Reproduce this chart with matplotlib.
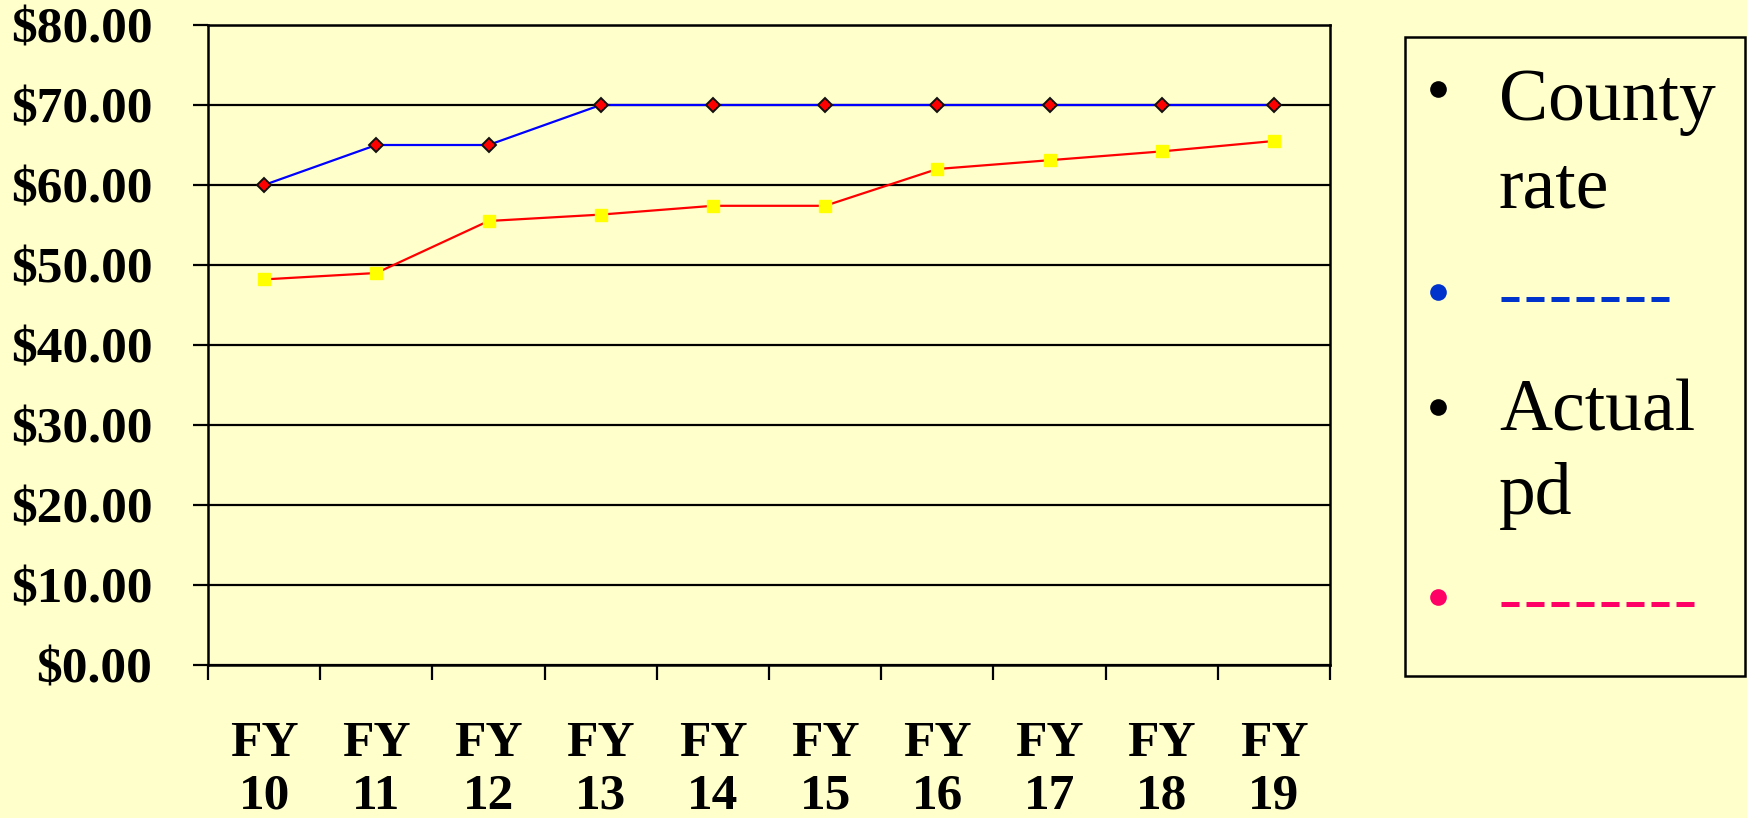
import matplotlib
matplotlib.use("Agg")
import matplotlib.pyplot as plt
from matplotlib.lines import Line2D
from matplotlib.patches import Rectangle

categories = ["FY\n10", "FY\n11", "FY\n12", "FY\n13", "FY\n14",
              "FY\n15", "FY\n16", "FY\n17", "FY\n18", "FY\n19"]
county_rate = [60, 65, 65, 70, 70, 70, 70, 70, 70, 70]
actual_pd = [48.2, 49.0, 55.5, 56.3, 57.4, 57.4, 62.0, 63.1, 64.2, 65.5]
y_ticks = [0, 10, 20, 30, 40, 50, 60, 70, 80]
y_labels = ["$0.00", "$10.00", "$20.00", "$30.00", "$40.00",
            "$50.00", "$60.00", "$70.00", "$80.00"]

BG = "#FFFFCC"
SERIF = ["Liberation Serif", "DejaVu Serif"]

W, H = 1747, 818
fig = plt.figure(figsize=(W / 100, H / 100), dpi=100, facecolor=BG)
ax = fig.add_axes([208 / W, 1 - 665 / H, (1330 - 208) / W, (665 - 25) / H])
ax.set_facecolor(BG)

x = list(range(len(categories)))
ax.plot(x, county_rate, color="#0000FF", lw=1.6, marker="D", markersize=7.5,
        markerfacecolor="#FF0000", markeredgecolor="#111111", markeredgewidth=1.4, zorder=4)
ax.plot(x, actual_pd, color="#FF0000", lw=1.6, marker="s", markersize=9,
        markerfacecolor="#FFFF00", markeredgecolor="#FFFF00", zorder=3)

ax.set_xlim(-0.5, len(categories) - 0.5)
ax.set_ylim(0, 80)
ax.set_yticks(y_ticks)
ax.set_yticklabels(y_labels, family=SERIF, fontsize=37, fontweight="bold")
ax.yaxis.grid(True, color="black", lw=1.6)
ax.set_axisbelow(True)

ax.set_xticks(x)
ax.set_xticklabels(categories, family=SERIF, fontsize=37, fontweight="bold", linespacing=1.2)
ax.set_xticks([i - 0.5 for i in range(len(categories) + 1)], minor=True)
ax.tick_params(axis="x", which="major", length=0, pad=40)
ax.tick_params(axis="x", which="minor", length=11, width=1.6, direction="out")
ax.tick_params(axis="y", length=11, width=1.6, direction="out", pad=29)
for s in ax.spines.values():
    s.set_linewidth(1.8)
    s.set_color("black")

# legend box
fig.add_artist(Rectangle((1405 / W, 1 - 676 / H), (1745 - 1405) / W, (676 - 37) / H,
                         transform=fig.transFigure, facecolor="none",
                         edgecolor="black", lw=1.8))

def fy(py):
    return 1 - py / H

bx = 1438 / W
for py, col in [(89, "black"), (292, "#0033CC"), (407, "black"), (597, "#FF0066")]:
    fig.add_artist(Line2D([bx], [fy(py)], transform=fig.transFigure, marker="o",
                          markersize=12, color=col, markeredgewidth=0, linestyle="none"))

tx = 1499 / W
fig.text(tx, fy(120), "County", family=SERIF, fontsize=53, va="baseline", ha="left")
fig.text(tx, fy(208), "rate", family=SERIF, fontsize=53, va="baseline", ha="left")
fig.text(tx, fy(430), "Actual", family=SERIF, fontsize=53, va="baseline", ha="left")
fig.text(tx, fy(514), "pd", family=SERIF, fontsize=53, va="baseline", ha="left")

fig.add_artist(Line2D([1501 / W, 1669 / W], [fy(299), fy(299)], transform=fig.transFigure,
                      color="#0033CC", lw=3.6, dashes=(3.6, 1.4), dash_capstyle="butt"))
fig.add_artist(Line2D([1501 / W, 1696 / W], [fy(604), fy(604)], transform=fig.transFigure,
                      color="#FF0066", lw=3.6, dashes=(3.6, 1.4), dash_capstyle="butt"))

fig.savefig("out.png", dpi=100, facecolor=BG)
